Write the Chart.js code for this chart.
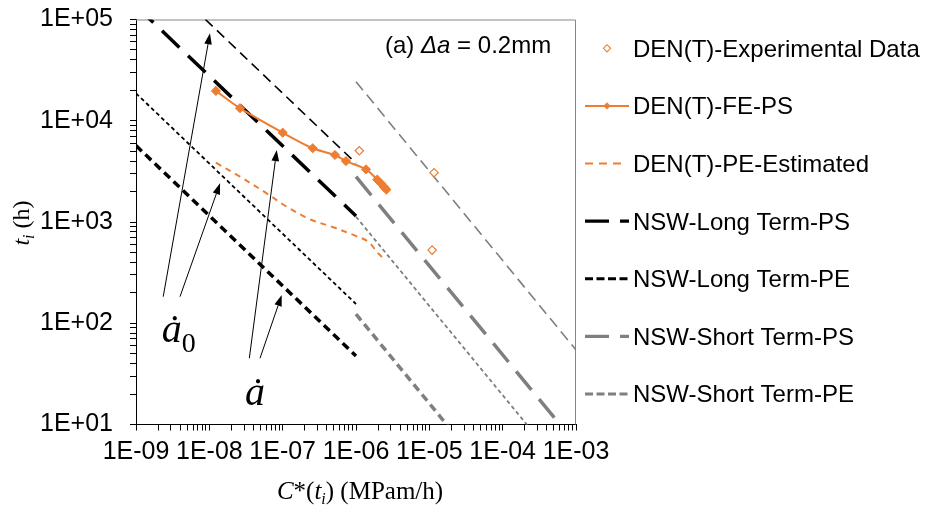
<!DOCTYPE html>
<html><head><meta charset="utf-8">
<script src="https://cdn.jsdelivr.net/npm/chart.js@4.4.1/dist/chart.umd.min.js"></script>
<style>html,body{margin:0;padding:0;background:#fff}canvas{display:block}</style>
</head><body>
<canvas id="c" width="932" height="508"></canvas>
<script>
const ORANGE='#ED7D31',GREY='#7F7F7F',BLACK='#000000';
const SANS='"Liberation Sans", Arial, sans-serif',SERIF='"Liberation Serif", "Times New Roman", serif';

/* ── data: x = C*(ti) [MPam/h], y = ti [h] ── */
const EXP_X=[1.11e-6,1.16e-5,1.09e-5];
const EXP_Y=[5060,3070,528];
const FE_PS_X=[1.23e-8,2.62e-8,1.0e-7,2.57e-7,5.17e-7,7.3e-7,1.37e-6,1.95e-6,2.2e-6,2.4e-6,2.6e-6];
const FE_PS_Y=[19700,13300,7620,5350,4590,4000,3310,2620,2400,2220,2090];
const PE_EST_X=[1.23e-8,2.62e-8,6.05e-8,1.135e-7,2.36e-7,4.91e-7,9.19e-7,1.47e-6,1.91e-6,2.49e-6];
const PE_EST_Y=[3850,2800,1920,1416,1064,887,745,639,509,422];
// NSW lines, two ends each (ȧ and ȧ0 bounds)
const LT_X=[1e-9,1e-6];
const LT_PS_A=[1.36e5,1146];
const LT_PS_A0=[4.53e5,3800];
const LT_PE_A=[5680,47.5];
const LT_PE_A0=[18660,155];
const ST_X=[1e-6,1e-3];
const ST_PS_A=[2800,6.43];
const ST_PS_A0=[24300,54.5];
const ST_PE_A=[123,0.279];
const ST_PE_A0=[1128,2.56];

const X_TICK_VALUES=[1e-9,1e-8,1e-7,1e-6,1e-5,1e-4,1e-3];
const X_TICK_LABELS=['1E-09','1E-08','1E-07','1E-06','1E-05','1E-04','1E-03'];
const Y_TICK_VALUES=[1e1,1e2,1e3,1e4,1e5];
const Y_TICK_LABELS=['1E+01','1E+02','1E+03','1E+04','1E+05'];

const LEGEND_LABELS=['DEN(T)-Experimental Data','DEN(T)-FE-PS','DEN(T)-PE-Estimated','NSW-Long Term-PS','NSW-Long Term-PE','NSW-Short Term-PS','NSW-Short Term-PE'];

// arrows from the ȧ0 / ȧ labels to the lines (data coords)
const ARROW_X0=[2.35e-9,3.98e-9,3.51e-8,4.91e-8];
const ARROW_Y0=[183,183,45.1,45.1];
const ARROW_X1=[1.02e-8,1.40e-8,8.3e-8,9.7e-8];
const ARROW_Y1=[73100,2410,5140,190];
const LABEL_A0=[2.24e-9,65.8];
const LABEL_A=[3.06e-8,15.6];

// wanted plot box inside the 932x508 canvas
const AREA={left:136,top:19.5,right:576,bottom:424.5};
const FIT={xh:83.5,yw:136};

const pts=(xs,ys)=>xs.map((x,i)=>({x,y:ys[i]}));
const minorTicks=majors=>{const t=[];majors.forEach((d,i)=>{if(i===majors.length-1){t.push(d);return;}for(let m=1;m<10;m++)t.push(m*d);});return t;};
const labelFor=(v,vals,labs)=>{const i=vals.findIndex(m=>Math.abs(v/m-1)<1e-6);return i>=0?labs[i]:'';};

function nswLine(label,xs,ys,color,width,dash,cap){
  return {label,data:pts(xs,ys),borderColor:color,backgroundColor:color,borderWidth:width,borderDash:dash,
    borderCapStyle:cap||'butt',pointRadius:0,pointHoverRadius:0,fill:false,tension:0,clip:0};
}

function rich(ctx,parts,x,y,align){
  let w=0;parts.forEach(p=>{ctx.font=p[1];w+=ctx.measureText(p[0]).width;});
  let cx=align==='center'?x-w/2:x;
  parts.forEach(p=>{ctx.font=p[1];ctx.fillText(p[0],cx,y+(p[2]||0));cx+=ctx.measureText(p[0]).width;});
}

const framePlugin={id:'frame',beforeDatasetsDraw(c){
  const a=c.chartArea,ctx=c.ctx;ctx.save();
  ctx.strokeStyle='#868686';ctx.lineWidth=1;ctx.beginPath();
  ctx.moveTo(a.left,a.top+0.5);ctx.lineTo(a.right-0.5,a.top+0.5);ctx.lineTo(a.right-0.5,a.bottom);ctx.stroke();
  ctx.restore();
}};

const notePlugin={id:'notes',afterDatasetsDraw(c){
  const ctx=c.ctx,sx=c.scales.x,sy=c.scales.y,a=c.chartArea;
  ctx.save();ctx.fillStyle=BLACK;ctx.strokeStyle=BLACK;ctx.lineWidth=1;
  // arrows
  ARROW_X0.forEach((x0,i)=>{
    const p0=[sx.getPixelForValue(x0),sy.getPixelForValue(ARROW_Y0[i])];
    const p1=[sx.getPixelForValue(ARROW_X1[i]),sy.getPixelForValue(ARROW_Y1[i])];
    const ang=Math.atan2(p1[1]-p0[1],p1[0]-p0[0]),L=11,W=3.8;
    const bx=p1[0]-L*Math.cos(ang),by=p1[1]-L*Math.sin(ang);
    ctx.beginPath();ctx.moveTo(p0[0],p0[1]);ctx.lineTo(bx,by);ctx.stroke();
    ctx.beginPath();ctx.moveTo(p1[0],p1[1]);
    ctx.lineTo(bx+W*Math.sin(ang),by-W*Math.cos(ang));
    ctx.lineTo(bx-W*Math.sin(ang),by+W*Math.cos(ang));ctx.closePath();ctx.fill();
  });
  ctx.textBaseline='alphabetic';ctx.textAlign='left';
  rich(ctx,[['\u0227','italic 40px '+SERIF],['0','28px '+SERIF,10]],sx.getPixelForValue(LABEL_A0[0]),sy.getPixelForValue(LABEL_A0[1]));
  rich(ctx,[['\u0227','italic 40px '+SERIF]],sx.getPixelForValue(LABEL_A[0]),sy.getPixelForValue(LABEL_A[1]));
  // panel note
  rich(ctx,[['(a) ','24px '+SANS],['\u0394a','italic 24px '+SANS],[' = 0.2mm','24px '+SANS]],a.right-191,a.top+33);
  // axis titles
  rich(ctx,[['C','italic 25px '+SERIF],['*(','25px '+SERIF],['t','italic 25px '+SERIF],['i','italic 16px '+SERIF,5],[') (MPam/h)','25px '+SERIF]],(a.left+a.right)/2+4,499,'center');
  ctx.save();ctx.translate(29,223);ctx.rotate(-Math.PI/2);
  rich(ctx,[['t','italic 24px '+SERIF],['i','italic 16px '+SERIF,5],[' (h)','24px '+SERIF]],0,0,'center');
  ctx.restore();
  ctx.restore();
}};

const legendPlugin={id:'sideLegend',afterDraw(c){
  const ctx=c.ctx,a=c.chartArea,x0=a.right+9,x1=a.right+53,xm=a.right+31,tx=a.right+57;
  const sample=[
    {marker:'open'},
    {color:ORANGE,w:2,dash:[],marker:'fill',x1:x1},
    {color:ORANGE,w:2,dash:[8,6],x1:a.right+46},
    {color:BLACK,w:3.3,dash:[24,11]},
    {color:BLACK,w:3,dash:[8,3.5]},
    {color:GREY,w:3.3,dash:[24,11]},
    {color:GREY,w:3,dash:[8,3.5]},
  ];
  ctx.save();
  LEGEND_LABELS.forEach((lab,i)=>{
    const y=48.3+i*57.6,s=sample[i];
    if(s.color){ctx.strokeStyle=s.color;ctx.lineWidth=s.w;ctx.setLineDash(s.dash);ctx.lineCap='butt';
      ctx.beginPath();ctx.moveTo(x0,y);ctx.lineTo(s.x1||x1,y);ctx.stroke();ctx.setLineDash([]);}
    if(s.marker){const r=3.6;ctx.beginPath();ctx.moveTo(xm-r,y);ctx.lineTo(xm,y-r);ctx.lineTo(xm+r,y);ctx.lineTo(xm,y+r);ctx.closePath();
      if(s.marker==='fill'){ctx.fillStyle=ORANGE;ctx.fill();}else{ctx.fillStyle='#fff';ctx.fill();ctx.strokeStyle=ORANGE;ctx.lineWidth=1.1;ctx.stroke();}}
    ctx.fillStyle=BLACK;ctx.font='24px '+SANS;ctx.textAlign='left';ctx.textBaseline='alphabetic';
    ctx.fillText(lab,tx,y+8.5);
  });
  ctx.restore();
}};

const chart=new Chart(document.getElementById('c'),{
  type:'line',
  data:{datasets:[
    {label:LEGEND_LABELS[0],data:pts(EXP_X,EXP_Y),showLine:false,pointStyle:'rectRot',pointRadius:4.2,pointHoverRadius:4.2,
      pointBorderWidth:1.2,pointBorderColor:ORANGE,pointBackgroundColor:'#fff',borderColor:ORANGE,backgroundColor:'#fff'},
    {label:LEGEND_LABELS[1],data:pts(FE_PS_X,FE_PS_Y),borderColor:ORANGE,backgroundColor:ORANGE,borderWidth:2,tension:0.3,
      pointStyle:'rectRot',pointRadius:4.6,pointHoverRadius:4.6,pointBorderWidth:1,pointBorderColor:ORANGE,pointBackgroundColor:ORANGE,fill:false},
    {label:LEGEND_LABELS[2],data:pts(PE_EST_X,PE_EST_Y),borderColor:ORANGE,backgroundColor:ORANGE,borderWidth:2,borderDash:[6,5],
      tension:0.35,pointRadius:0,pointHoverRadius:0,fill:false,clip:0},
    nswLine('LT-PS a',LT_X,LT_PS_A,BLACK,3.5,[24,12]),
    nswLine('LT-PS a0',LT_X,LT_PS_A0,BLACK,1.6,[10,6]),
    nswLine('LT-PE a',LT_X,LT_PE_A,BLACK,3.5,[8,5]),
    nswLine('LT-PE a0',LT_X,LT_PE_A0,BLACK,1.8,[4,3]),
    nswLine('ST-PS a',ST_X,ST_PS_A,GREY,3.5,[24,12]),
    nswLine('ST-PS a0',ST_X,ST_PS_A0,GREY,1.6,[11,6]),
    nswLine('ST-PE a',ST_X,ST_PE_A,GREY,3.5,[8,5]),
    nswLine('ST-PE a0',ST_X,ST_PE_A0,GREY,1.8,[4,3]),
  ]},
  options:{
    responsive:false,devicePixelRatio:1,animation:false,
    layout:{padding:{left:0,right:932-AREA.right,top:AREA.top,bottom:0}},
    plugins:{legend:{display:false},tooltip:{enabled:false}},
    scales:{
      x:{type:'logarithmic',min:1e-9,max:1e-3,
        afterBuildTicks:s=>{s.ticks=minorTicks(X_TICK_VALUES).map(v=>({value:v}));},
        afterFit:s=>{s.height=FIT.xh;s.paddingLeft=0;s.paddingRight=0;},
        ticks:{autoSkip:false,maxRotation:0,minRotation:0,padding:7,color:BLACK,font:{family:SANS,size:25},
          callback:v=>labelFor(v,X_TICK_VALUES,X_TICK_LABELS)},
        grid:{display:true,drawOnChartArea:false,drawTicks:true,tickLength:6,color:BLACK,lineWidth:1},
        border:{display:true,color:BLACK,width:1}},
      y:{type:'logarithmic',min:10,max:1e5,
        afterBuildTicks:s=>{s.ticks=minorTicks(Y_TICK_VALUES).map(v=>({value:v}));},
        afterFit:s=>{s.width=FIT.yw;s.paddingTop=0;s.paddingBottom=0;},
        ticks:{autoSkip:false,padding:17,color:BLACK,font:{family:SANS,size:25},
          callback:v=>labelFor(v,Y_TICK_VALUES,Y_TICK_LABELS)},
        grid:{display:true,drawOnChartArea:false,drawTicks:true,tickLength:6,color:BLACK,lineWidth:1},
        border:{display:true,color:BLACK,width:1}}
    }
  },
  plugins:[framePlugin,notePlugin,legendPlugin]
});

// nudge layout so the plot box lands where the reference has it
for(let k=0;k<3;k++){
  const ca=chart.chartArea,p=chart.config.options.layout.padding;
  chart.config.options.layout.padding={left:0,bottom:0,
    top:Math.max(0,p.top+(AREA.top-ca.top)),right:Math.max(0,p.right+(ca.right-AREA.right))};
  FIT.yw+=AREA.left-ca.left;
  FIT.xh+=ca.bottom-AREA.bottom;
  chart.update();
}
</script>
</body></html>
